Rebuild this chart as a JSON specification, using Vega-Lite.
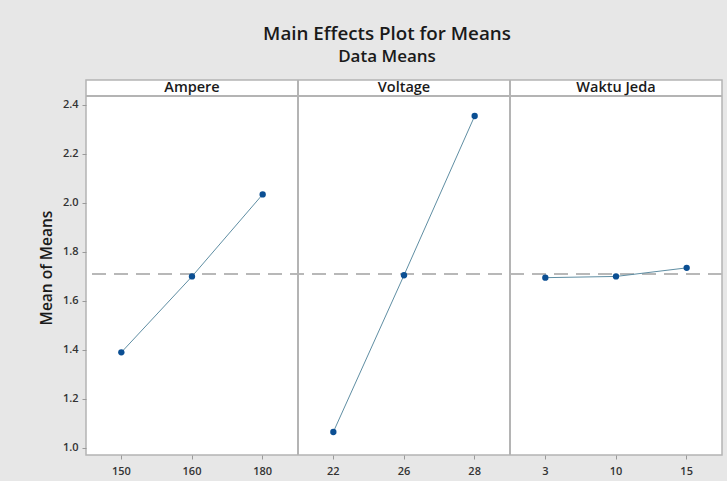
{
  "$schema": "https://vega.github.io/schema/vega-lite/v6.json",
  "background": "#e7e7e7",
  "padding": {"left": 39, "top": 25, "right": 5, "bottom": 5},
  "width": 636,
  "height": 375,
  "title": {
    "text": "Main Effects Plot for Means",
    "subtitle": "Data Means",
    "anchor": "middle",
    "font": "Open Sans",
    "subtitleFont": "Open Sans",
    "fontSize": 18.8,
    "subtitleFontSize": 17,
    "fontWeight": 600,
    "subtitleFontWeight": 600,
    "color": "#1a1a1a",
    "subtitleColor": "#1a1a1a",
    "subtitlePadding": 5,
    "offset": 14,
    "dx": -17
  },
  "datasets": {
    "means": [
      {"factor": "Ampere", "level": "150", "mean": 1.39},
      {"factor": "Ampere", "level": "160", "mean": 1.70},
      {"factor": "Ampere", "level": "180", "mean": 2.035},
      {"factor": "Voltage", "level": "22", "mean": 1.065},
      {"factor": "Voltage", "level": "26", "mean": 1.705},
      {"factor": "Voltage", "level": "28", "mean": 2.355},
      {"factor": "Waktu Jeda", "level": "3", "mean": 1.695},
      {"factor": "Waktu Jeda", "level": "10", "mean": 1.70},
      {"factor": "Waktu Jeda", "level": "15", "mean": 1.735}
    ],
    "headers": [
      {"factor": "Ampere"},
      {"factor": "Voltage"},
      {"factor": "Waktu Jeda"}
    ]
  },
  "resolve": {"scale": {"x": "independent"}},
  "layer": [
    {
      "data": {"name": "means"},
      "layer": [
        {
          "mark": {"type": "rule", "strokeDash": [14, 8], "color": "#b8b8b8", "strokeWidth": 1.5},
          "encoding": {"y": {"datum": 1.71, "type": "quantitative"}}
        },
        {
          "mark": {"type": "rule", "color": "#b4b4b4", "strokeWidth": 1.5},
          "encoding": {"y": {"datum": 2.437, "type": "quantitative"}}
        },
        {
          "mark": {"type": "rule", "color": "#b4b4b4", "strokeWidth": 1.5},
          "encoding": {"x": {"datum": "180", "type": "nominal", "bandPosition": 1}}
        },
        {
          "mark": {"type": "rule", "color": "#b4b4b4", "strokeWidth": 1.5},
          "encoding": {"x": {"datum": "28", "type": "nominal", "bandPosition": 1}}
        },
        {
          "mark": {"type": "line", "color": "#5f8ea3", "strokeWidth": 1},
          "encoding": {
            "x": {"field": "level", "type": "nominal", "sort": ["150", "160", "180", "22", "26", "28", "3", "10", "15"]},
            "y": {"field": "mean", "type": "quantitative"},
            "detail": {"field": "factor", "type": "nominal"}
          }
        },
        {
          "mark": {"type": "point", "filled": true, "opacity": 1, "size": 40, "color": "#0b4f93"},
          "encoding": {
            "x": {"field": "level", "type": "nominal", "sort": ["150", "160", "180", "22", "26", "28", "3", "10", "15"],
              "scale": {"type": "band", "paddingInner": 0, "paddingOuter": 0},
              "axis": {"title": null}},
            "y": {"field": "mean", "type": "quantitative",
              "scale": {"domain": [0.971, 2.502], "nice": false, "zero": false},
              "axis": {"title": "Mean of Means", "values": [1.0, 1.2, 1.4, 1.6, 1.8, 2.0, 2.2, 2.4], "format": ".1f"}}
          }
        }
      ]
    },
    {
      "data": {"name": "headers"},
      "mark": {"type": "text", "font": "Open Sans", "fontSize": 14.5, "fontWeight": 600, "color": "#1a1a1a"},
      "encoding": {
        "x": {"field": "factor", "type": "nominal", "sort": ["Ampere", "Voltage", "Waktu Jeda"],
          "scale": {"type": "band", "paddingInner": 0, "paddingOuter": 0}, "axis": null},
        "y": {"datum": 2.4695, "type": "quantitative"},
        "text": {"field": "factor", "type": "nominal"}
      }
    }
  ],
  "config": {
    "view": {"stroke": "#b4b4b4", "strokeWidth": 1.5, "fill": "#ffffff"},
    "axis": {
      "grid": false,
      "domain": false,
      "labelFont": "Open Sans",
      "labelFontSize": 11,
      "labelFontWeight": 600,
      "labelColor": "#333333",
      "tickColor": "#9a9a9a",
      "tickSize": 4,
      "labelPadding": 4,
      "titleFont": "Open Sans",
      "titleFontSize": 15.5,
      "titleFontWeight": 600,
      "titleColor": "#1a1a1a"
    },
    "axisX": {"labelAngle": 0, "labelPadding": 6},
    "axisY": {"titlePadding": 8}
  }
}
